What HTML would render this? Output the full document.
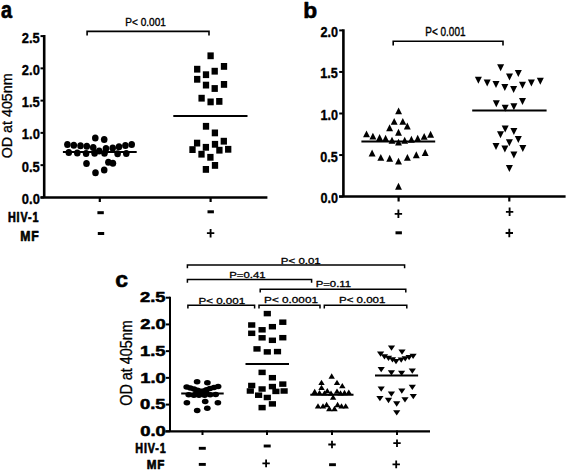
<!DOCTYPE html>
<html><head><meta charset="utf-8"><style>
html,body{margin:0;padding:0;background:#fff;}
svg{display:block;}
text{font-family:"Liberation Sans",sans-serif;fill:#000;}
</style></head><body>
<svg width="567" height="471" viewBox="0 0 567 471" fill="#000" stroke="#000">
<rect x="0" y="0" width="567" height="471" fill="#fff" stroke="none"/>
<g stroke="none">
<text transform="translate(1.02,17.67) scale(0.8581,1)" font-size="23.18" font-weight="bold" stroke="#000" stroke-width="0.65" stroke-linejoin="round" >a</text>
<line x1="44.2" y1="35.0" x2="44.2" y2="197.4" stroke="#000" stroke-width="2.6"/>
<line x1="40.5" y1="36.1" x2="44.2" y2="36.1" stroke="#000" stroke-width="2.0"/>
<line x1="40.5" y1="68.36" x2="44.2" y2="68.36" stroke="#000" stroke-width="2.0"/>
<line x1="40.5" y1="100.62" x2="44.2" y2="100.62" stroke="#000" stroke-width="2.0"/>
<line x1="40.5" y1="132.88" x2="44.2" y2="132.88" stroke="#000" stroke-width="2.0"/>
<line x1="40.5" y1="165.14" x2="44.2" y2="165.14" stroke="#000" stroke-width="2.0"/>
<line x1="40.5" y1="197.39999999999998" x2="44.2" y2="197.39999999999998" stroke="#000" stroke-width="2.0"/>
<text transform="translate(21.69,42.58) scale(0.8773,1)" font-size="14.76" font-weight="bold" stroke="#000" stroke-width="0.37" stroke-linejoin="round">2.5</text>
<text transform="translate(21.86,74.84) scale(0.8773,1)" font-size="14.76" font-weight="bold" stroke="#000" stroke-width="0.37" stroke-linejoin="round">2.0</text>
<text transform="translate(21.69,107.10) scale(0.8773,1)" font-size="14.76" font-weight="bold" stroke="#000" stroke-width="0.37" stroke-linejoin="round">1.5</text>
<text transform="translate(21.86,139.36) scale(0.8773,1)" font-size="14.76" font-weight="bold" stroke="#000" stroke-width="0.37" stroke-linejoin="round">1.0</text>
<text transform="translate(21.69,171.62) scale(0.8773,1)" font-size="14.76" font-weight="bold" stroke="#000" stroke-width="0.37" stroke-linejoin="round">0.5</text>
<text transform="translate(21.86,203.88) scale(0.8773,1)" font-size="14.76" font-weight="bold" stroke="#000" stroke-width="0.37" stroke-linejoin="round">0.0</text>
<text transform="translate(11.60,158.27) rotate(-90) scale(0.9783,1)" font-size="14.61" font-weight="normal" stroke="#000" stroke-width="0.3">OD at 405nm</text>
<line x1="40.5" y1="197.4" x2="267.4" y2="197.4" stroke="#000" stroke-width="2.5"/>
<line x1="99.8" y1="197" x2="99.8" y2="202" stroke="#000" stroke-width="2.2"/>
<line x1="210.6" y1="197" x2="210.6" y2="202" stroke="#000" stroke-width="2.2"/>
<text transform="translate(7.88,222.20) scale(0.7289,1)" font-size="14.83" font-weight="bold" stroke="#000" stroke-width="0.70" stroke-linejoin="round"  letter-spacing="1.235">HIV-1</text>
<text transform="translate(20.18,240.50) scale(0.8175,1)" font-size="14.97" font-weight="bold" stroke="#000" stroke-width="0.66" stroke-linejoin="round"  letter-spacing="0.979">MF</text>
<rect x="97.40" y="211.20" width="6.40" height="3.00"/>
<rect x="97.80" y="232.00" width="6.40" height="3.00"/>
<rect x="207.50" y="210.30" width="6.40" height="3.00"/>
<path d="M206.90 232.27h7.40v1.85h-7.40zM209.67 229.00h1.85v8.40h-1.85z"/>
<path d="M87.1 35.4V31.4H209V35.4" fill="none" stroke="#000" stroke-width="1.6" stroke-linecap="butt"/>
<text transform="translate(125.25,26.12) scale(0.9217,1)" font-size="10.95" font-weight="normal" stroke="#000" stroke-width="0.36" stroke-linejoin="round" >P&lt; 0.001</text>
<ellipse cx="67.4" cy="144.5" rx="3.3" ry="3.5"/>
<ellipse cx="73.8" cy="145.2" rx="3.3" ry="3.5"/>
<ellipse cx="80.5" cy="145.7" rx="3.3" ry="3.5"/>
<ellipse cx="86.8" cy="146.2" rx="3.3" ry="3.5"/>
<ellipse cx="93.2" cy="147.5" rx="3.3" ry="3.5"/>
<ellipse cx="99.2" cy="151" rx="3.3" ry="3.5"/>
<ellipse cx="106" cy="148.6" rx="3.3" ry="3.5"/>
<ellipse cx="112.7" cy="147.9" rx="3.3" ry="3.5"/>
<ellipse cx="119" cy="146.8" rx="3.3" ry="3.5"/>
<ellipse cx="125.4" cy="145.4" rx="3.3" ry="3.5"/>
<ellipse cx="131.7" cy="144.5" rx="3.3" ry="3.5"/>
<ellipse cx="68.8" cy="152.6" rx="3.3" ry="3.5"/>
<ellipse cx="77.3" cy="152.9" rx="3.3" ry="3.5"/>
<ellipse cx="86.1" cy="153.6" rx="3.3" ry="3.5"/>
<ellipse cx="94.6" cy="153.3" rx="3.3" ry="3.5"/>
<ellipse cx="104.5" cy="153.3" rx="3.3" ry="3.5"/>
<ellipse cx="117.6" cy="153.8" rx="3.3" ry="3.5"/>
<ellipse cx="126.3" cy="153.6" rx="3.3" ry="3.5"/>
<ellipse cx="95.3" cy="137.9" rx="3.3" ry="3.5"/>
<ellipse cx="104.2" cy="139.4" rx="3.3" ry="3.5"/>
<ellipse cx="86.5" cy="163.5" rx="3.3" ry="3.5"/>
<ellipse cx="108.4" cy="162.3" rx="3.3" ry="3.5"/>
<ellipse cx="112.9" cy="163.3" rx="3.3" ry="3.5"/>
<ellipse cx="104.2" cy="170" rx="3.3" ry="3.5"/>
<ellipse cx="95.5" cy="172.8" rx="3.3" ry="3.5"/>
<line x1="62.9" y1="151.9" x2="136.7" y2="151.9" stroke="#000" stroke-width="2.0"/>
<rect x="207.45" y="52.40" width="6.30" height="6.80"/>
<rect x="220.85" y="63.00" width="6.30" height="6.80"/>
<rect x="194.05" y="65.80" width="6.30" height="6.80"/>
<rect x="211.55" y="67.80" width="6.30" height="6.80"/>
<rect x="202.85" y="71.30" width="6.30" height="6.80"/>
<rect x="194.05" y="75.90" width="6.30" height="6.80"/>
<rect x="220.85" y="81.00" width="6.30" height="6.80"/>
<rect x="202.85" y="81.70" width="6.30" height="6.80"/>
<rect x="211.55" y="85.10" width="6.30" height="6.80"/>
<rect x="198.45" y="94.80" width="6.30" height="6.80"/>
<rect x="207.45" y="98.50" width="6.30" height="6.80"/>
<rect x="216.15" y="98.00" width="6.30" height="6.80"/>
<rect x="202.85" y="122.90" width="6.30" height="6.80"/>
<rect x="211.75" y="129.50" width="6.30" height="6.80"/>
<rect x="220.65" y="137.80" width="6.30" height="6.80"/>
<rect x="193.95" y="139.70" width="6.30" height="6.80"/>
<rect x="211.85" y="140.90" width="6.30" height="6.80"/>
<rect x="202.75" y="143.90" width="6.30" height="6.80"/>
<rect x="189.35" y="146.20" width="6.30" height="6.80"/>
<rect x="225.05" y="145.90" width="6.30" height="6.80"/>
<rect x="216.25" y="146.80" width="6.30" height="6.80"/>
<rect x="198.35" y="150.80" width="6.30" height="6.80"/>
<rect x="207.25" y="153.90" width="6.30" height="6.80"/>
<rect x="211.85" y="162.00" width="6.30" height="6.80"/>
<rect x="202.75" y="166.00" width="6.30" height="6.80"/>
<line x1="173.3" y1="116.1" x2="247.5" y2="116.1" stroke="#000" stroke-width="2.0"/>
<text transform="translate(303.19,17.77) scale(1.0042,1)" font-size="22.72" font-weight="bold" stroke="#000" stroke-width="0.60" stroke-linejoin="round" >b</text>
<line x1="343.4" y1="29.299999999999997" x2="343.4" y2="196.6" stroke="#000" stroke-width="2.6"/>
<line x1="339.2" y1="30.4" x2="343.4" y2="30.4" stroke="#000" stroke-width="2.0"/>
<line x1="339.2" y1="71.94999999999999" x2="343.4" y2="71.94999999999999" stroke="#000" stroke-width="2.0"/>
<line x1="339.2" y1="113.5" x2="343.4" y2="113.5" stroke="#000" stroke-width="2.0"/>
<line x1="339.2" y1="155.04999999999998" x2="343.4" y2="155.04999999999998" stroke="#000" stroke-width="2.0"/>
<line x1="339.2" y1="196.6" x2="343.4" y2="196.6" stroke="#000" stroke-width="2.0"/>
<text transform="translate(320.47,36.93) scale(0.8485,1)" font-size="14.90" font-weight="bold" stroke="#000" stroke-width="0.38" stroke-linejoin="round">2.0</text>
<text transform="translate(320.30,78.48) scale(0.8485,1)" font-size="14.90" font-weight="bold" stroke="#000" stroke-width="0.38" stroke-linejoin="round">1.5</text>
<text transform="translate(320.47,120.03) scale(0.8485,1)" font-size="14.90" font-weight="bold" stroke="#000" stroke-width="0.38" stroke-linejoin="round">1.0</text>
<text transform="translate(320.30,161.58) scale(0.8485,1)" font-size="14.90" font-weight="bold" stroke="#000" stroke-width="0.38" stroke-linejoin="round">0.5</text>
<text transform="translate(320.47,203.13) scale(0.8485,1)" font-size="14.90" font-weight="bold" stroke="#000" stroke-width="0.38" stroke-linejoin="round">0.0</text>
<line x1="339.1" y1="196.6" x2="565.6" y2="196.6" stroke="#000" stroke-width="2.5"/>
<line x1="398.6" y1="196.5" x2="398.6" y2="201.5" stroke="#000" stroke-width="2.2"/>
<line x1="509.3" y1="196.5" x2="509.3" y2="201.5" stroke="#000" stroke-width="2.2"/>
<path d="M394.70 212.88h7.40v1.85h-7.40zM397.47 209.60h1.85v8.40h-1.85z"/>
<rect x="395.50" y="231.30" width="6.40" height="3.00"/>
<path d="M505.90 210.88h7.40v1.85h-7.40zM508.68 207.60h1.85v8.40h-1.85z"/>
<path d="M505.60 232.07h7.40v1.85h-7.40zM508.38 228.80h1.85v8.40h-1.85z"/>
<path d="M393.2 45.5V41.2H503V45.5" fill="none" stroke="#000" stroke-width="1.6" stroke-linecap="butt"/>
<text transform="translate(425.26,35.71) scale(0.8368,1)" font-size="11.94" font-weight="normal" stroke="#000" stroke-width="0.38" stroke-linejoin="round" >P&lt; 0.001</text>
<path d="M398.60 107.45L402.05 114.35H395.15Z"/>
<path d="M394.20 117.95L397.65 124.85H390.75Z"/>
<path d="M402.80 117.95L406.25 124.85H399.35Z"/>
<path d="M407.30 122.55L410.75 129.45H403.85Z"/>
<path d="M389.60 124.35L393.05 131.25H386.15Z"/>
<path d="M398.50 128.75L401.95 135.65H395.05Z"/>
<path d="M366.50 130.45L369.95 137.35H363.05Z"/>
<path d="M372.90 132.65L376.35 139.55H369.45Z"/>
<path d="M379.60 134.05L383.05 140.95H376.15Z"/>
<path d="M385.60 134.85L389.05 141.75H382.15Z"/>
<path d="M392.00 136.75L395.45 143.65H388.55Z"/>
<path d="M398.50 138.65L401.95 145.55H395.05Z"/>
<path d="M404.70 136.75L408.15 143.65H401.25Z"/>
<path d="M411.40 135.75L414.85 142.65H407.95Z"/>
<path d="M417.70 134.85L421.15 141.75H414.25Z"/>
<path d="M424.20 132.95L427.65 139.85H420.75Z"/>
<path d="M430.60 130.75L434.05 137.65H427.15Z"/>
<path d="M372.10 149.55L375.55 156.45H368.65Z"/>
<path d="M380.80 153.95L384.25 160.85H377.35Z"/>
<path d="M389.70 154.75L393.15 161.65H386.25Z"/>
<path d="M398.50 157.65L401.95 164.55H395.05Z"/>
<path d="M407.40 153.95L410.85 160.85H403.95Z"/>
<path d="M416.30 151.25L419.75 158.15H412.85Z"/>
<path d="M425.20 149.05L428.65 155.95H421.75Z"/>
<path d="M398.50 182.85L401.95 189.75H395.05Z"/>
<line x1="361.4" y1="141.5" x2="435.2" y2="141.5" stroke="#000" stroke-width="2.0"/>
<path d="M497.10 64.20H504.10L500.60 71.20Z"/>
<path d="M514.80 69.90H521.80L518.30 76.90Z"/>
<path d="M506.00 73.50H513.00L509.50 80.50Z"/>
<path d="M474.90 76.80H481.90L478.40 83.80Z"/>
<path d="M483.70 79.50H490.70L487.20 86.50Z"/>
<path d="M492.50 81.10H499.50L496.00 88.10Z"/>
<path d="M501.30 84.10H508.30L504.80 91.10Z"/>
<path d="M510.10 86.00H517.10L513.60 93.00Z"/>
<path d="M519.00 81.80H526.00L522.50 88.80Z"/>
<path d="M527.90 79.50H534.90L531.40 86.50Z"/>
<path d="M536.80 77.80H543.80L540.30 84.80Z"/>
<path d="M492.80 100.30H499.80L496.30 107.30Z"/>
<path d="M501.70 104.70H508.70L505.20 111.70Z"/>
<path d="M510.40 103.20H517.40L513.90 110.20Z"/>
<path d="M519.00 97.90H526.00L522.50 104.90Z"/>
<path d="M501.70 125.40H508.70L505.20 132.40Z"/>
<path d="M510.40 127.90H517.40L513.90 134.90Z"/>
<path d="M497.00 131.20H504.00L500.50 138.20Z"/>
<path d="M514.80 135.90H521.80L518.30 142.90Z"/>
<path d="M505.90 139.20H512.90L509.40 146.20Z"/>
<path d="M492.50 142.90H499.50L496.00 149.90Z"/>
<path d="M501.40 145.50H508.40L504.90 152.50Z"/>
<path d="M519.30 144.90H526.30L522.80 151.90Z"/>
<path d="M510.40 151.40H517.40L513.90 158.40Z"/>
<path d="M505.90 165.10H512.90L509.40 172.10Z"/>
<line x1="472.2" y1="110.5" x2="546.6" y2="110.5" stroke="#000" stroke-width="2.0"/>
<text transform="translate(115.20,286.68) scale(1.0569,1)" font-size="21.72" font-weight="bold" stroke="#000" stroke-width="0.58" stroke-linejoin="round" >c</text>
<line x1="170" y1="296.7" x2="170" y2="431.3" stroke="#000" stroke-width="2.0"/>
<line x1="165.8" y1="297.7" x2="170" y2="297.7" stroke="#000" stroke-width="2.0"/>
<line x1="165.8" y1="324.41999999999996" x2="170" y2="324.41999999999996" stroke="#000" stroke-width="2.0"/>
<line x1="165.8" y1="351.14" x2="170" y2="351.14" stroke="#000" stroke-width="2.0"/>
<line x1="165.8" y1="377.86" x2="170" y2="377.86" stroke="#000" stroke-width="2.0"/>
<line x1="165.8" y1="404.58" x2="170" y2="404.58" stroke="#000" stroke-width="2.0"/>
<line x1="165.8" y1="431.29999999999995" x2="170" y2="431.29999999999995" stroke="#000" stroke-width="2.0"/>
<text transform="translate(139.92,302.35) scale(1.2414,1)" font-size="14.83" font-weight="bold" stroke="#000" stroke-width="0.54" stroke-linejoin="round">2.5</text>
<text transform="translate(140.16,329.07) scale(1.2414,1)" font-size="14.83" font-weight="bold" stroke="#000" stroke-width="0.54" stroke-linejoin="round">2.0</text>
<text transform="translate(139.92,355.79) scale(1.2414,1)" font-size="14.83" font-weight="bold" stroke="#000" stroke-width="0.54" stroke-linejoin="round">1.5</text>
<text transform="translate(140.16,382.51) scale(1.2414,1)" font-size="14.83" font-weight="bold" stroke="#000" stroke-width="0.54" stroke-linejoin="round">1.0</text>
<text transform="translate(139.92,409.23) scale(1.2414,1)" font-size="14.83" font-weight="bold" stroke="#000" stroke-width="0.54" stroke-linejoin="round">0.5</text>
<text transform="translate(140.16,435.95) scale(1.2414,1)" font-size="14.83" font-weight="bold" stroke="#000" stroke-width="0.54" stroke-linejoin="round">0.0</text>
<text transform="translate(131.90,405.78) rotate(-90) scale(0.9220,1)" font-size="15.62" font-weight="normal" stroke="#000" stroke-width="0.3">OD at 405nm</text>
<line x1="165.3" y1="431.3" x2="430" y2="431.3" stroke="#000" stroke-width="2.2"/>
<line x1="202.5" y1="430.5" x2="202.5" y2="435" stroke="#000" stroke-width="2.0"/>
<line x1="267" y1="430.5" x2="267" y2="435" stroke="#000" stroke-width="2.0"/>
<line x1="332" y1="430.5" x2="332" y2="435" stroke="#000" stroke-width="2.0"/>
<line x1="397" y1="430.5" x2="397" y2="435" stroke="#000" stroke-width="2.0"/>
<text transform="translate(135.28,453.30) scale(0.7053,1)" font-size="15.26" font-weight="bold" stroke="#000" stroke-width="0.71" stroke-linejoin="round"  letter-spacing="1.276">HIV-1</text>
<text transform="translate(146.82,468.90) scale(0.8762,1)" font-size="13.37" font-weight="bold" stroke="#000" stroke-width="0.64" stroke-linejoin="round"  letter-spacing="0.913">MF</text>
<rect x="198.80" y="446.85" width="7.00" height="2.90"/>
<rect x="263.70" y="444.55" width="7.00" height="2.90"/>
<path d="M328.30 443.60h7.40v1.80h-7.40zM331.10 440.70h1.80v7.60h-1.80z"/>
<path d="M393.30 442.30h7.40v1.80h-7.40zM396.10 439.50h1.80v7.40h-1.80z"/>
<rect x="198.80" y="462.95" width="7.00" height="2.90"/>
<path d="M262.40 462.50h7.40v1.80h-7.40zM265.20 459.60h1.80v7.60h-1.80z"/>
<rect x="329.10" y="463.25" width="6.80" height="2.90"/>
<path d="M392.50 463.50h7.40v1.80h-7.40zM395.30 460.60h1.80v7.60h-1.80z"/>
<path d="M187.4 268.3V264.9H404.6V268.3" fill="none" stroke="#000" stroke-width="1.5" stroke-linecap="butt"/>
<path d="M187.4 282.8V279.4H311.6V282.8" fill="none" stroke="#000" stroke-width="1.5" stroke-linecap="butt"/>
<path d="M260.2 292.6V289.3H405.8V292.6" fill="none" stroke="#000" stroke-width="1.5" stroke-linecap="butt"/>
<path d="M187.9 308.5V305.2H254.6V308.5" fill="none" stroke="#000" stroke-width="1.5" stroke-linecap="butt"/>
<path d="M259 308.5V305.2H320V308.5" fill="none" stroke="#000" stroke-width="1.5" stroke-linecap="butt"/>
<path d="M324.3 308.6V305.2H406.8V308.6" fill="none" stroke="#000" stroke-width="1.5" stroke-linecap="butt"/>
<text transform="translate(280.83,263.73) scale(1.2621,1)" font-size="9.11" font-weight="normal" stroke="#000" stroke-width="0.31" stroke-linejoin="round" >P&lt; 0.01</text>
<text transform="translate(229.14,277.83) scale(1.1957,1)" font-size="9.53" font-weight="normal" stroke="#000" stroke-width="0.32" stroke-linejoin="round" >P=0.41</text>
<text transform="translate(315.64,287.43) scale(1.1937,1)" font-size="9.53" font-weight="normal" stroke="#000" stroke-width="0.32" stroke-linejoin="round" >P=0.11</text>
<text transform="translate(198.42,303.53) scale(1.1820,1)" font-size="9.82" font-weight="normal" stroke="#000" stroke-width="0.32" stroke-linejoin="round" >P&lt; 0.001</text>
<text transform="translate(264.11,303.03) scale(1.1968,1)" font-size="9.82" font-weight="normal" stroke="#000" stroke-width="0.32" stroke-linejoin="round" >P&lt; 0.0001</text>
<text transform="translate(338.93,303.33) scale(1.2116,1)" font-size="9.53" font-weight="normal" stroke="#000" stroke-width="0.32" stroke-linejoin="round" >P&lt; 0.001</text>
<ellipse cx="197.1" cy="381.7" rx="3.35" ry="2.75"/>
<ellipse cx="207.4" cy="382.8" rx="3.35" ry="2.75"/>
<ellipse cx="186.7" cy="386.9" rx="3.35" ry="2.75"/>
<ellipse cx="190.3" cy="387.9" rx="3.35" ry="2.75"/>
<ellipse cx="194" cy="389" rx="3.35" ry="2.75"/>
<ellipse cx="197.5" cy="390.2" rx="3.35" ry="2.75"/>
<ellipse cx="200.5" cy="391.2" rx="3.35" ry="2.75"/>
<ellipse cx="203.5" cy="391" rx="3.35" ry="2.75"/>
<ellipse cx="206.5" cy="389.8" rx="3.35" ry="2.75"/>
<ellipse cx="210" cy="388.6" rx="3.35" ry="2.75"/>
<ellipse cx="214" cy="387.5" rx="3.35" ry="2.75"/>
<ellipse cx="218.1" cy="386.5" rx="3.35" ry="2.75"/>
<ellipse cx="196.5" cy="392.5" rx="3.35" ry="2.75"/>
<ellipse cx="201.5" cy="393" rx="3.35" ry="2.75"/>
<ellipse cx="206" cy="392.3" rx="3.35" ry="2.75"/>
<ellipse cx="188.7" cy="394.8" rx="3.35" ry="2.75"/>
<ellipse cx="193.9" cy="395.2" rx="3.35" ry="2.75"/>
<ellipse cx="199" cy="395.3" rx="3.35" ry="2.75"/>
<ellipse cx="204.6" cy="395.2" rx="3.35" ry="2.75"/>
<ellipse cx="210.2" cy="394.8" rx="3.35" ry="2.75"/>
<ellipse cx="215.7" cy="394.4" rx="3.35" ry="2.75"/>
<ellipse cx="186.9" cy="402.7" rx="3.35" ry="2.75"/>
<ellipse cx="205.2" cy="401.5" rx="3.35" ry="2.75"/>
<ellipse cx="217.9" cy="402.7" rx="3.35" ry="2.75"/>
<ellipse cx="207.3" cy="408.3" rx="3.35" ry="2.75"/>
<ellipse cx="197.2" cy="410.5" rx="3.35" ry="2.75"/>
<line x1="181.2" y1="393.4" x2="223.7" y2="393.4" stroke="#000" stroke-width="2.0"/>
<rect x="263.70" y="310.85" width="7.20" height="5.50"/>
<rect x="279.20" y="319.45" width="7.20" height="5.50"/>
<rect x="248.10" y="322.25" width="7.20" height="5.50"/>
<rect x="268.80" y="323.95" width="7.20" height="5.50"/>
<rect x="258.50" y="327.05" width="7.20" height="5.50"/>
<rect x="248.10" y="330.55" width="7.20" height="5.50"/>
<rect x="258.50" y="335.05" width="7.20" height="5.50"/>
<rect x="279.20" y="334.95" width="7.20" height="5.50"/>
<rect x="268.80" y="337.55" width="7.20" height="5.50"/>
<rect x="253.40" y="346.15" width="7.20" height="5.50"/>
<rect x="263.70" y="349.15" width="7.20" height="5.50"/>
<rect x="273.90" y="348.85" width="7.20" height="5.50"/>
<rect x="258.50" y="369.65" width="7.20" height="5.50"/>
<rect x="268.80" y="374.95" width="7.20" height="5.50"/>
<rect x="279.20" y="381.35" width="7.20" height="5.50"/>
<rect x="248.10" y="382.75" width="7.20" height="5.50"/>
<rect x="268.80" y="383.85" width="7.20" height="5.50"/>
<rect x="258.50" y="386.25" width="7.20" height="5.50"/>
<rect x="246.70" y="388.25" width="7.20" height="5.50"/>
<rect x="272.30" y="388.65" width="7.20" height="5.50"/>
<rect x="280.50" y="388.25" width="7.20" height="5.50"/>
<rect x="255.00" y="392.45" width="7.20" height="5.50"/>
<rect x="263.70" y="394.75" width="7.20" height="5.50"/>
<rect x="268.80" y="401.15" width="7.20" height="5.50"/>
<rect x="258.50" y="404.85" width="7.20" height="5.50"/>
<line x1="245.5" y1="363.9" x2="289" y2="363.9" stroke="#000" stroke-width="2.0"/>
<path d="M331.70 373.35L334.90 378.65H328.50Z"/>
<path d="M321.50 379.75L324.70 385.05H318.30Z"/>
<path d="M337.00 379.75L340.20 385.05H333.80Z"/>
<path d="M342.30 383.05L345.50 388.35H339.10Z"/>
<path d="M321.50 384.65L324.70 389.95H318.30Z"/>
<path d="M314.70 388.85L317.90 394.15H311.50Z"/>
<path d="M319.50 389.95L322.70 395.25H316.30Z"/>
<path d="M324.50 390.15L327.70 395.45H321.30Z"/>
<path d="M327.30 387.95L330.50 393.25H324.10Z"/>
<path d="M331.00 390.55L334.20 395.85H327.80Z"/>
<path d="M337.00 388.55L340.20 393.85H333.80Z"/>
<path d="M340.50 390.15L343.70 395.45H337.30Z"/>
<path d="M344.50 389.85L347.70 395.15H341.30Z"/>
<path d="M348.80 389.55L352.00 394.85H345.60Z"/>
<path d="M333.10 394.55L336.30 399.85H329.90Z"/>
<path d="M318.00 403.15L321.20 408.45H314.80Z"/>
<path d="M323.00 403.15L326.20 408.45H319.80Z"/>
<path d="M326.60 401.85L329.80 407.15H323.40Z"/>
<path d="M329.30 405.85L332.50 411.15H326.10Z"/>
<path d="M334.50 405.85L337.70 411.15H331.30Z"/>
<path d="M337.60 401.85L340.80 407.15H334.40Z"/>
<path d="M341.50 403.15L344.70 408.45H338.30Z"/>
<path d="M345.70 403.15L348.90 408.45H342.50Z"/>
<line x1="310.3" y1="394.7" x2="353.5" y2="394.7" stroke="#000" stroke-width="2.0"/>
<path d="M387.90 345.45H395.10L391.50 350.75Z"/>
<path d="M398.40 349.45H405.60L402.00 354.75Z"/>
<path d="M377.00 351.45H384.20L380.60 356.75Z"/>
<path d="M380.90 354.15H388.10L384.50 359.45Z"/>
<path d="M384.90 355.65H392.10L388.50 360.95Z"/>
<path d="M388.90 357.15H396.10L392.50 362.45Z"/>
<path d="M392.40 358.95H399.60L396.00 364.25Z"/>
<path d="M409.50 353.65H416.70L413.10 358.95Z"/>
<path d="M405.50 355.05H412.70L409.10 360.35Z"/>
<path d="M401.60 356.15H408.80L405.20 361.45Z"/>
<path d="M397.60 357.55H404.80L401.20 362.85Z"/>
<path d="M377.60 366.95H384.80L381.20 372.25Z"/>
<path d="M387.80 370.25H395.00L391.40 375.55Z"/>
<path d="M398.00 370.75H405.20L401.60 376.05Z"/>
<path d="M408.70 368.55H415.90L412.30 373.85Z"/>
<path d="M377.60 386.45H384.80L381.20 391.75Z"/>
<path d="M408.70 384.75H415.90L412.30 390.05Z"/>
<path d="M398.20 388.55H405.40L401.80 393.85Z"/>
<path d="M387.80 391.55H395.00L391.40 396.85Z"/>
<path d="M409.70 394.05H416.90L413.30 399.35Z"/>
<path d="M376.30 395.95H383.50L379.90 401.25Z"/>
<path d="M384.90 397.85H392.10L388.50 403.15Z"/>
<path d="M401.40 397.15H408.60L405.00 402.45Z"/>
<path d="M393.10 401.35H400.30L396.70 406.65Z"/>
<path d="M393.10 410.25H400.30L396.70 415.55Z"/>
<line x1="375" y1="375.6" x2="418.1" y2="375.6" stroke="#000" stroke-width="2.0"/>
</g>
</svg>
</body></html>
